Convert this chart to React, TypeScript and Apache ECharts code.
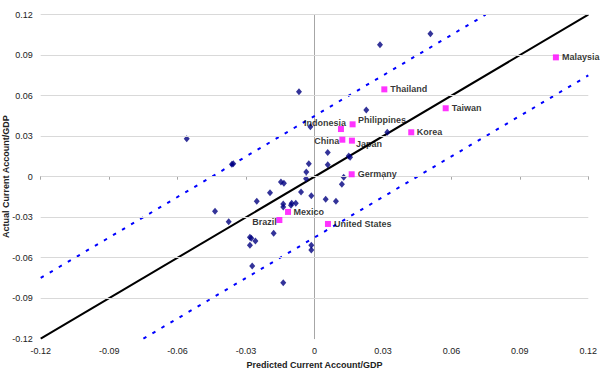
import { useEffect, useRef } from "react";
import * as echarts from "echarts";

// Axis range / ticks
const axisMin = -0.12;
const axisMax = 0.12;
const axisStep = 0.03;
const gridLevels = [-0.09, -0.06, -0.03, 0, 0.03, 0.06, 0.09, 0.12];

// Reference lines (45-degree line and +/- band)
const fitLine = [[-0.12, -0.12], [0.12, 0.12]];
const upperBand = [[-0.12, -0.075], [0.075, 0.12]];
const lowerBand = [[-0.075, -0.12], [0.12, 0.075]];

// Highlighted economies
const countryNames = ["Malaysia", "Thailand", "Taiwan", "Indonesia", "Philippines", "Korea", "China", "Japan", "Germany", "Mexico", "Brazil", "United States"];
const countryPredicted = [0.1058, 0.0306, 0.0575, 0.0116, 0.0167, 0.0424, 0.0122, 0.0164, 0.0163, -0.0116, -0.0154, 0.0059];
const countryActual = [0.0884, 0.0647, 0.0507, 0.0353, 0.0388, 0.0329, 0.0274, 0.0267, 0.0018, -0.0261, -0.0321, -0.035];

// Other economies
const otherPredicted = [-0.0068, 0.0227, -0.0018, 0.0319, 0.0058, 0.015, 0.0156, -0.0025, 0.0058, -0.0036, -0.0037, 0.0128, 0.012, -0.0147, -0.0134, -0.0362, -0.0356, -0.0195, -0.0059, -0.0014, 0.0049, 0.0094, -0.0253, -0.0137, -0.0137, -0.01, -0.0082, -0.0103, -0.0376, -0.0179, -0.0283, -0.0277, -0.0259, -0.0283, -0.0014, -0.0014, -0.0273, -0.0137, -0.0436, -0.056, 0.0508, 0.0287];
const otherActual = [0.063, 0.0494, 0.037, 0.0329, 0.018, 0.0153, 0.0144, 0.0096, 0.0089, 0.0035, -0.0015, -0.0004, -0.0056, -0.0039, -0.0049, 0.0092, 0.0096, -0.0119, -0.0113, -0.0141, -0.0167, -0.0182, -0.0182, -0.0202, -0.0224, -0.0197, -0.0197, -0.0212, -0.0333, -0.0419, -0.0449, -0.0456, -0.0476, -0.0508, -0.0508, -0.0543, -0.0661, -0.0785, -0.0256, 0.0281, 0.1059, 0.0978];

// Label placement (style only)
const labelPlacement: Record<string, { position: string; offset: number[] }> = {
  Malaysia: { position: "right", offset: [-2, 0] },
  Thailand: { position: "right", offset: [-2, 0] },
  Taiwan: { position: "right", offset: [-2, 0] },
  Indonesia: { position: "left", offset: [13, -6] },
  Philippines: { position: "right", offset: [-2.7, -4.3] },
  Korea: { position: "right", offset: [-2.5, 0] },
  China: { position: "left", offset: [5, 1] },
  Japan: { position: "right", offset: [-4, 3] },
  Germany: { position: "right", offset: [-2, 0] },
  Mexico: { position: "right", offset: [-2.5, 0] },
  Brazil: { position: "left", offset: [5.5, 1.5] },
  "United States": { position: "right", offset: [-2, 0] },
};

const FONT = "'Liberation Sans', Arial, sans-serif";
const fmt = (v: number) => String(Math.round(v * 100) / 100);

export default function App() {
  const ref = useRef<HTMLDivElement>(null);
  useEffect(() => {
    if (!ref.current) return;
    const chart = echarts.init(ref.current, undefined, { renderer: "svg" });
    const axisColor = "#a6a6a6";
    const labelStyle = { fontSize: 9, color: "#222", fontFamily: FONT };
    chart.setOption({
      animation: false,
      backgroundColor: "#ffffff",
      grid: { left: 40.7, right: 11.7, top: 14.7, bottom: 32.3, containLabel: false, outerBoundsMode: "none" },
      xAxis: [
        {
          type: "value", min: axisMin, max: axisMax, interval: axisStep, position: "bottom",
          axisLine: { show: false, onZero: false }, axisTick: { show: false }, splitLine: { show: false },
          axisLabel: { ...labelStyle, margin: 8, formatter: fmt },
          name: "Predicted Current Account/GDP", nameLocation: "middle", nameGap: 22, nameMoveOverlap: false,
          nameTextStyle: { fontSize: 9, fontWeight: "bold", color: "#222", fontFamily: FONT },
        },
        {
          type: "value", min: axisMin, max: axisMax, interval: axisStep, position: "bottom",
          axisLine: { show: true, onZero: true, onZeroAxisIndex: 0, lineStyle: { color: axisColor, width: 1 } },
          axisTick: { show: true, length: 3, lineStyle: { color: axisColor } },
          axisLabel: { show: false }, splitLine: { show: false },
        },
      ],
      yAxis: [
        {
          type: "value", min: axisMin, max: axisMax, interval: axisStep, position: "left",
          axisLine: { show: false, onZero: false }, axisTick: { show: false }, splitLine: { show: false },
          axisLabel: { ...labelStyle, margin: 8, formatter: fmt },
          name: "Actual Current Account/GDP", nameLocation: "middle", nameGap: 30, nameRotate: 90, nameMoveOverlap: false,
          nameTextStyle: { fontSize: 9, fontWeight: "bold", color: "#222", fontFamily: FONT },
        },
        {
          type: "value", min: axisMin, max: axisMax, interval: axisStep, position: "left",
          axisLine: { show: true, onZero: true, onZeroAxisIndex: 0, lineStyle: { color: axisColor, width: 1 } },
          axisTick: { show: false },
          axisLabel: { show: false }, splitLine: { show: false },
        },
      ],
      series: [
        {
          type: "line", data: [], silent: true, z: 0,
          markLine: {
            silent: true, symbol: "none", animation: false,
            label: { show: false },
            lineStyle: { color: "#d9d9d9", width: 1, type: "solid" },
            data: gridLevels.map((v) => ({ yAxis: v })),
          },
        },
        {
          type: "line", data: upperBand, symbol: "none", silent: true, z: 3,
          lineStyle: { color: "#0000ff", width: 2, type: [3.5, 7] },
        },
        {
          type: "line", data: lowerBand, symbol: "none", silent: true, z: 3,
          lineStyle: { color: "#0000ff", width: 2, type: [3.5, 7] },
        },
        {
          type: "line", data: fitLine, symbol: "none", silent: true, z: 3,
          lineStyle: { color: "#000000", width: 2 },
        },
        {
          type: "scatter", symbol: "diamond", symbolSize: [6, 7], z: 4,
          itemStyle: { color: "#000080" },
          data: otherPredicted.map((x, i) => [x, otherActual[i]]),
        },
        {
          type: "scatter", symbol: "rect", symbolSize: 6, z: 5,
          itemStyle: { color: "#ff00ff" },
          data: countryNames.map((n, i) => ({
            name: n,
            value: [countryPredicted[i], countryActual[i]],
            label: {
              show: true, formatter: "{b}",
              position: labelPlacement[n].position, offset: labelPlacement[n].offset,
              fontSize: 9, fontWeight: "bold", color: "#000", fontFamily: FONT,
            },
          })),
        },
      ],
    });
    return () => chart.dispose();
  }, []);
  return <div ref={ref} style={{ position: "fixed", left: 0, top: 0, width: 600, height: 371 }} />;
}
